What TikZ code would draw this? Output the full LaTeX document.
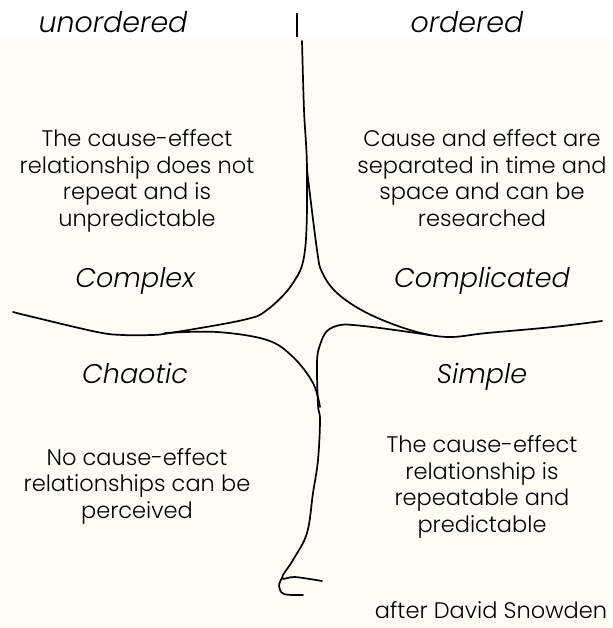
\documentclass[tikz,border=0pt]{standalone}
\usepackage{fontspec}
\setmainfont{Poppins}[UprightFont=* Light, ItalicFont=* Light Italic]
\definecolor{paper}{RGB}{253,253,246}
\begin{document}
\begin{tikzpicture}[x=1pt, y=-1pt,
    quad/.style={align=center, anchor=base, font=\fontsize{22.5}{26.5}\selectfont},
    realm/.style={anchor=base, font=\fontsize{27}{30}\selectfont\itshape},
    stroke/.style={line width=1.7pt, line cap=round, line join=round}]
    % Page and background
    \useasboundingbox (0,0) rectangle (612,628);
    \fill[white] (0,0) rectangle (612,628);
    \fill[paper] (0,39) rectangle (612,628);

    % Headings
    \node[realm, font=\fontsize{28.5}{30}\selectfont\itshape] (unord) at (113,33) {unordered};
    \node[realm, font=\fontsize{28.5}{30}\selectfont\itshape] (ord) at (467,33) {ordered};
    \draw[line width=1.4pt] (297,13) -- (297,37);

    % Boundaries
    \draw[stroke] plot[smooth, tension=0.6] coordinates {
        (302,41) (304,110) (307,170) (305,250) (293,283) (267,310) (243,320)
        (170,333) (150,335) (123,335) (97,332) (33,317) (13,312)};
    \draw[stroke] plot[smooth, tension=0.6] coordinates {
        (307,170) (317,250) (322,272) (337,293) (367,313) (410,330) (447,337)
        (487,333) (553,327) (602,321)};
    \draw[stroke] plot[smooth, tension=0.6] coordinates {
        (165,333) (217,332) (267,340) (293,357) (313,383) (320,407)};
    \draw[stroke] plot[smooth, tension=0.6] coordinates {
        (430,335) (380,328) (353,325) (340,325) (327,331) (320,345) (317,362)
        (318,405) (320,420) (318,460) (313,493) (307,533) (293,560) (282,578)
        (295,577) (322,581)};
    \draw[stroke] plot[smooth, tension=0.6] coordinates {
        (282,578) (279,586) (284,594) (303,595)};

    % Quadrants
    \node[realm] (complex) at (135,287) {Complex};
    \node[realm] (complicated) at (482,287) {Complicated};
    \node[realm] (chaotic) at (135,383) {Chaotic};
    \node[realm] (simple) at (482,383) {Simple};

    % Descriptions (placed by their last baseline)
    \node[quad] (complexTxt) at (137,226)
        {The cause-effect\\relationship does not\\repeat and is\\unpredictable};
    \node[quad] (complicatedTxt) at (482,226)
        {Cause and effect are\\separated in time and\\space and can be\\researched};
    \node[quad] (chaoticTxt) at (137,518)
        {No cause-effect\\relationships can be\\perceived};
    \node[quad] (simpleTxt) at (482,532)
        {The cause-effect\\relationship is\\repeatable and\\predictable};

    \node[quad] (credit) at (491,618) {after David Snowden};
\end{tikzpicture}
\end{document}
